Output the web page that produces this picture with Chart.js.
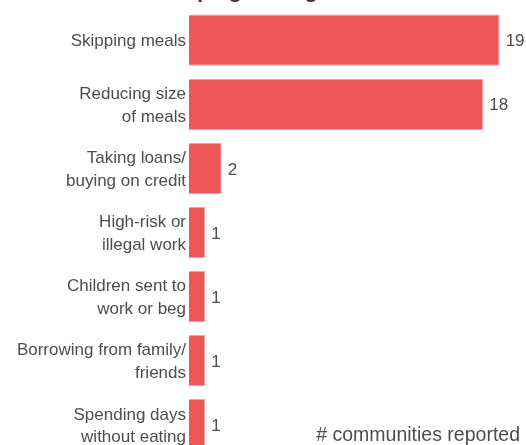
<!DOCTYPE html>
<html>
<head>
<meta charset="utf-8">
<script src="https://cdn.jsdelivr.net/npm/chart.js@4"></script>
<style>
  html, body { margin: 0; padding: 0; background: #fff; overflow: hidden; }
  body { width: 526px; height: 445px; position: relative; }
  #wrap { position: absolute; left: 0; top: -26px; width: 526px; height: 497px; }
</style>
</head>
<body>
<div id="wrap"><canvas id="chart"></canvas></div>
<script>
  // ---- Data ----
  const categories = [
    ['Skipping meals'],
    ['Reducing size', 'of meals'],
    ['Taking loans/', 'buying on credit'],
    ['High-risk or', 'illegal work'],
    ['Children sent to', 'work or beg'],
    ['Borrowing from family/', 'friends'],
    ['Spending days', 'without eating']
  ];
  const communities = [19, 18, 2, 1, 1, 1, 1];
  const titleText = 'Coping strategies';
  const axisTitle = '# communities reported';

  const textColor = '#4d4d4d';
  const fontFamily = '"Liberation Sans", Arial, sans-serif';

  // value labels at the end of each bar + caption bottom right
  const valueLabels = {
    id: 'valueLabels',
    afterDatasetsDraw(chart) {
      const ctx = chart.ctx;
      const meta = chart.getDatasetMeta(0);
      ctx.save();
      ctx.font = '17px ' + fontFamily;
      ctx.fillStyle = textColor;
      ctx.textAlign = 'left';
      ctx.textBaseline = 'middle';
      meta.data.forEach((bar, i) => {
        ctx.fillText(String(communities[i]), bar.x + 6, bar.y + 1.5);
      });
      ctx.font = '19.5px ' + fontFamily;
      ctx.textAlign = 'right';
      ctx.fillText(axisTitle, chart.width - 6, chart.chartArea.bottom - 21);
      ctx.restore();
    }
  };

  new Chart(document.getElementById('chart'), {
    type: 'bar',
    data: {
      labels: categories,
      datasets: [{
        data: communities,
        backgroundColor: '#ee575a',
        borderColor: '#f7a3a4',
        borderWidth: 1,
        barPercentage: 0.8,
        categoryPercentage: 1.0
      }]
    },
    options: {
      indexAxis: 'y',
      responsive: true,
      maintainAspectRatio: false,
      animation: false,
      layout: { padding: { left: 0, right: 10, top: 0, bottom: 0 } },
      plugins: {
        legend: { display: false },
        tooltip: { enabled: false },
        title: {
          display: true,
          text: titleText,
          color: '#333',
          font: { family: fontFamily, size: 21, weight: 'bold' },
          padding: { top: 6, bottom: 3 }
        }
      },
      scales: {
        x: { display: false, min: 0, max: 20 },
        y: {
          grid: { display: false, drawTicks: false },
          border: { display: false },
          afterFit(scale) { scale.width = 189; },
          ticks: {
            color: textColor,
            padding: 3,
            labelOffset: 1.5,
            font: { family: fontFamily, size: 17, lineHeight: 1.33 }
          }
        }
      }
    },
    plugins: [valueLabels]
  });
</script>
</body>
</html>
